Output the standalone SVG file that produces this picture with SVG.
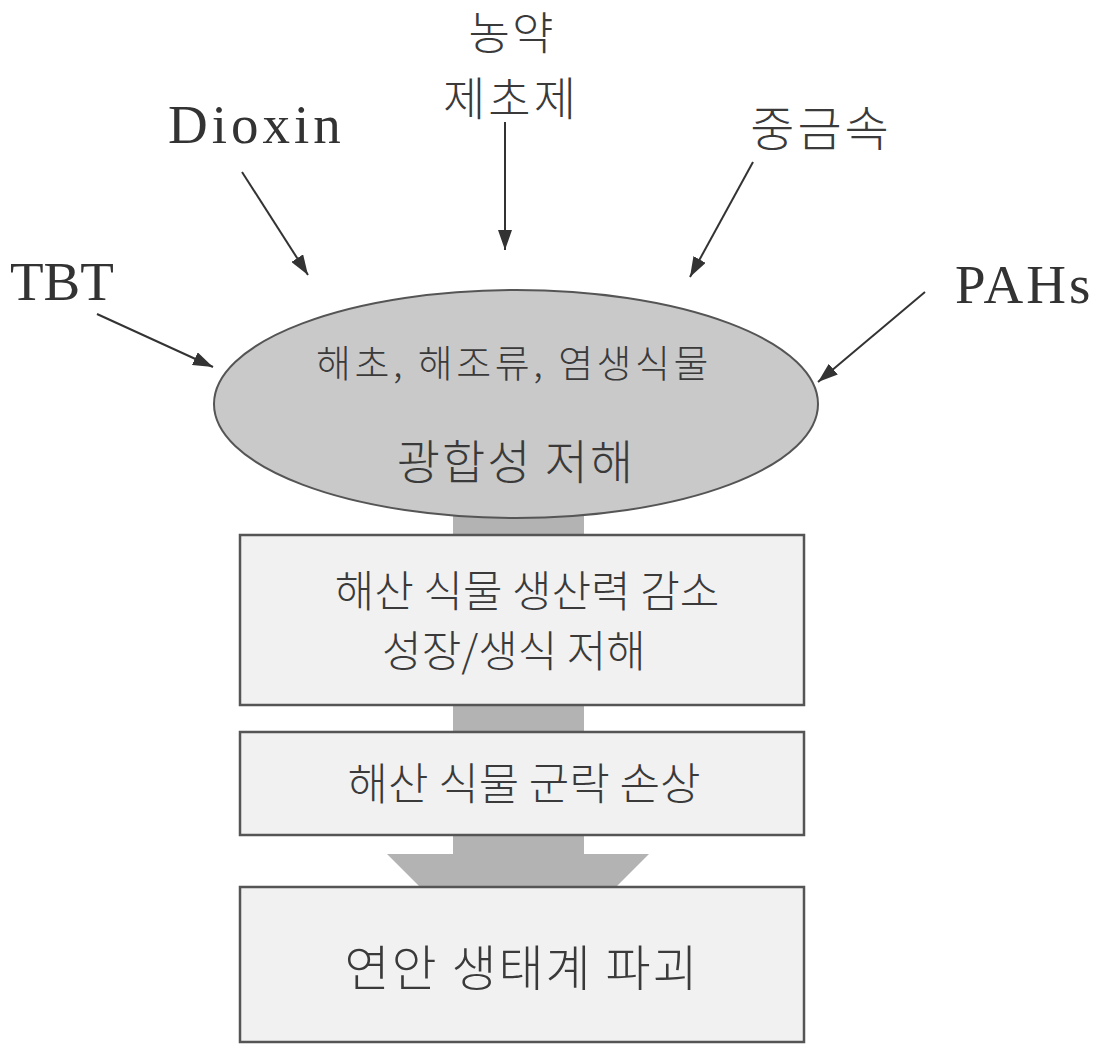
<svg xmlns="http://www.w3.org/2000/svg" width="1099" height="1045" viewBox="0 0 1099 1045">
<defs>
<marker id="ah" viewBox="0 0 20 14" refX="20" refY="7" markerWidth="20" markerHeight="14" markerUnits="userSpaceOnUse" orient="auto">
<path d="M0,0 L20,7 L0,14 Z" fill="#333"/>
</marker>
<style>
.lat{font-family:"Liberation Serif","Times New Roman",serif;fill:#333;}
.kr{font-family:"Noto Sans CJK KR","Noto Sans",sans-serif;font-weight:300;fill:#3a3a3a;text-anchor:middle;}
.box{fill:#f1f1f1;stroke:#555;stroke-width:2.5;}
.conn{stroke:#333;stroke-width:2;fill:none;marker-end:url(#ah);}
</style>
</defs>
<rect width="1099" height="1045" fill="#fff"/>
<g id="connectors">
<polygon id="flow-arrow" points="453,480 584,480 584,854 649,854 518,985 387,854 453,854" fill="#b3b3b3"/>
<line class="conn" x1="242" y1="172" x2="308" y2="275"/>
<line class="conn" x1="505" y1="122" x2="505" y2="250"/>
<line class="conn" x1="753" y1="162" x2="690" y2="277"/>
<line class="conn" x1="97" y1="314" x2="213" y2="367"/>
<line class="conn" x1="925" y1="292" x2="818" y2="382"/>
</g>
<g id="label-pesticide">
<text class="kr" x="512" y="50" font-size="45" letter-spacing="2">농약</text>
<text class="kr" x="511" y="115" font-size="46" letter-spacing="3">제초제</text>
</g>
<g id="label-dioxin"><text class="lat" x="168" y="143" font-size="55" letter-spacing="4">Dioxin</text></g>
<g id="label-heavymetal"><text class="kr" x="821" y="146" font-size="48" letter-spacing="3">중금속</text></g>
<g id="label-tbt"><text class="lat" x="10" y="300" font-size="55">TBT</text></g>
<g id="label-pahs"><text class="lat" x="955" y="303" font-size="55" letter-spacing="3">PAHs</text></g>
<g id="node-ellipse">
<ellipse cx="516" cy="404" rx="302" ry="114" fill="#c9c9c9" stroke="#555" stroke-width="2"/>
<text class="kr" x="514" y="377" font-size="38" letter-spacing="3.5">해초, 해조류, 염생식물</text>
<text class="kr" x="516" y="479" font-size="47" letter-spacing="2">광합성 저해</text>
</g>
<g id="node-box1">
<rect class="box" x="240" y="535" width="564" height="170"/>
<text class="kr" x="527" y="607" font-size="43">해산 식물 생산력 감소</text>
<text class="kr" x="514" y="667" font-size="43">성장/생식 저해</text>
</g>
<g id="node-box2">
<rect class="box" x="240" y="732" width="564" height="103"/>
<text class="kr" x="524" y="800" font-size="44">해산 식물 군락 손상</text>
</g>
<g id="node-box3">
<rect class="box" x="240" y="887" width="564" height="155"/>
<text class="kr" x="522" y="986" font-size="49" letter-spacing="2">연안 생태계 파괴</text>
</g>
</svg>
